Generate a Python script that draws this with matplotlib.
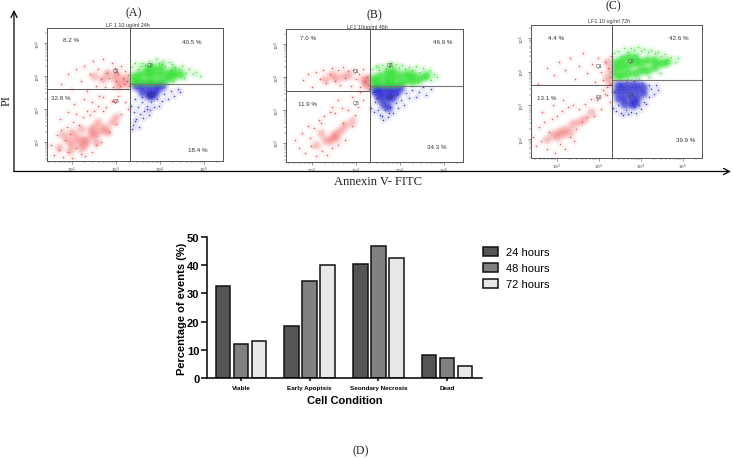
import numpy as np
import matplotlib
matplotlib.use('Agg')
import matplotlib.pyplot as plt
from matplotlib.patches import Patch

W, H = 733, 460

# bar chart values
conditions = ['Viable', 'Early Apoptsis', 'Seondary Necrosis', 'Dead']
hours = ['24 hours', '48 hours', '72 hours']
h24 = [32.8, 18.4, 40.5, 8.2]
h48 = [11.9, 34.3, 46.9, 7.0]
h72 = [13.1, 39.9, 42.6, 4.4]
y_ticks = [0, 10, 20, 30, 40, 50]

panel_titles = ['LF 1 10 ug/ml 24h', 'LF1 10ug/ml 48h', 'LF1 10 ug/ml 72h']
panel_letters = ['(A)', '(B)', '(C)']
decades = [2, 3, 4, 5]

# flow cytometry events, log10 units, read by eye from the clouds
# specks are single events, core points stand for the dense middle of a cloud
a_red_x = [1.52,1.6,1.66,1.7,1.75,1.8,1.83,1.88,1.9,1.95,2.0,2.02,2.08,2.1,2.15,2.2,2.24,2.3,2.35,2.4,2.46,2.5,2.55,2.6,2.66,2.7,2.78,2.85,2.9,3.0,3.05,3.12,3.2,3.28,1.72,1.9,2.05,2.28,2.62,
           1.75,1.9,2.0,2.1,2.2,2.28,2.35,2.4,2.48,2.55,2.6,2.66,2.7,2.75,2.8,2.85,2.9,2.92,2.98,3.0,3.05,3.08,3.12,3.15,3.18,3.2,3.24,3.27,3.3,2.45,2.7,2.95]
a_red_y = [1.9,1.6,2.2,1.75,2.35,1.55,2.05,2.45,1.7,2.25,1.5,2.6,1.8,2.85,2.5,1.62,2.75,1.58,2.95,2.82,1.7,2.95,1.9,3.1,2.0,2.95,3.05,2.3,3.25,2.55,3.4,2.85,3.2,3.0,2.7,2.9,3.15,3.3,3.4,
           3.75,4.05,3.6,4.2,3.85,4.3,3.55,4.05,4.45,3.7,4.2,3.9,4.5,3.65,4.1,3.95,4.4,3.65,4.25,3.85,4.05,3.7,4.3,3.95,3.75,4.15,3.85,4.02,3.68,3.2,3.35,3.25]
a_red_core_x = [2.0,2.15,2.25,2.35,2.45,2.55,2.1,2.4,2.65,1.9,2.75,2.3,1.7,1.8,2.0,2.2,2.5,2.8,2.9,3.0,2.6,2.2,2.55,1.95,3.1,3.2,3.25,2.95,3.05,2.7,2.8,2.5,3.0]
a_red_core_y = [1.95,2.0,2.1,2.05,2.2,2.25,2.15,2.35,2.35,2.05,2.45,1.9,1.85,2.2,2.3,2.4,2.45,2.3,2.6,2.75,2.6,1.8,2.0,1.75,3.85,3.95,3.75,3.95,3.7,3.9,4.1,4.0,4.1]
a_green_x = [3.36,3.42,3.5,3.6,3.66,3.75,3.82,3.9,3.98,4.06,4.12,4.2,4.28,4.34,4.42,4.5,4.58,4.66,4.74,4.82,4.9,3.55,3.8,4.05,4.3,4.55]
a_green_y = [4.28,4.38,4.22,4.4,4.33,4.46,4.36,4.5,4.4,4.45,4.3,4.42,4.36,4.28,4.2,4.3,4.1,4.22,4.05,4.12,4.0,4.3,3.82,4.35,3.85,3.92]
a_green_core_x = [3.4,3.4,3.55,3.55,3.7,3.7,3.7,3.85,3.85,3.85,4.0,4.0,4.0,4.15,4.15,4.3,4.3,4.45]
a_green_core_y = [3.85,4.0,3.85,4.05,3.85,4.05,4.2,3.85,4.05,4.25,3.85,4.05,4.25,3.9,4.1,4.0,4.15,4.05]
a_blue_x = [3.34,3.38,3.42,3.46,3.5,3.55,3.6,3.64,3.7,3.74,3.8,3.86,3.92,3.98,4.04,4.1,4.18,4.25,4.32,4.4,4.46,3.36,3.44,3.52,3.62,3.7,3.4,3.58,3.78]
a_blue_y = [3.1,2.5,3.3,2.7,3.05,2.85,3.2,2.95,3.1,2.8,3.2,3.05,3.3,3.1,3.25,3.45,3.3,3.55,3.4,3.6,3.52,2.4,2.62,2.45,2.72,3.0,2.9,3.35,2.98]
a_blue_core_x = [3.45,3.6,3.75,3.9,4.05,3.6,3.75,3.9,3.75,3.85]
a_blue_core_y = [3.68,3.68,3.68,3.68,3.68,3.52,3.52,3.55,3.38,3.42]

b_red_x = [1.62,1.7,1.78,1.85,1.9,1.98,2.05,2.1,2.16,2.22,2.28,2.34,2.4,2.46,2.52,2.6,2.68,2.75,2.82,2.9,2.98,3.05,3.15,1.95,2.2,2.45,2.7,
           1.8,1.9,2.0,2.1,2.18,2.25,2.32,2.4,2.46,2.52,2.58,2.64,2.7,2.76,2.82,2.88,2.94,3.0,3.06,3.1,3.15,3.2,3.25,3.28,3.3,2.6,2.9,3.1]
b_red_y = [2.1,1.85,2.3,1.7,2.5,1.9,2.45,1.6,2.7,1.75,2.8,1.62,2.95,1.85,2.9,1.95,3.05,2.1,3.0,2.5,2.85,3.1,3.3,2.15,2.6,3.1,2.6,
           3.9,4.08,3.7,4.15,3.95,4.22,3.8,4.1,4.28,3.88,4.2,3.75,4.3,3.98,4.18,3.72,4.22,3.95,4.1,3.7,4.25,3.85,4.0,3.75,3.62,3.3,3.4,3.55]
b_red_core_x = [2.3,2.45,2.55,2.65,2.4,2.75,2.55,2.1,2.9,2.2,2.55,2.7,2.85,3.2,3.25,3.15,3.28,2.3,2.45]
b_red_core_y = [2.1,2.2,2.3,2.4,2.05,2.55,2.15,1.95,2.65,2.3,3.98,4.02,4.05,3.85,3.72,3.95,3.98,3.95,4.05]
b_green_x = [3.36,3.45,3.52,3.6,3.68,3.75,3.82,3.9,3.98,4.05,4.12,4.2,4.28,4.36,4.44,4.52,4.6,4.68,4.76,4.84,3.5,3.8,4.1,4.4,4.7]
b_green_y = [4.25,4.32,4.2,4.36,4.28,4.4,4.32,4.38,4.28,4.35,4.25,4.3,4.22,4.34,4.15,4.28,3.98,4.2,4.08,4.0,4.3,4.42,3.8,3.85,3.9]
b_green_core_x = [3.4,3.4,3.55,3.55,3.7,3.7,3.7,3.85,3.85,3.85,4.0,4.0,4.15,4.15,4.3,4.3,4.45,4.6]
b_green_core_y = [3.82,3.98,3.82,4.02,3.82,3.98,4.15,3.82,4.0,4.18,3.85,4.05,3.9,4.1,3.88,4.05,3.98,4.05]
b_blue_x = [3.35,3.4,3.44,3.5,3.54,3.6,3.66,3.72,3.78,3.84,3.9,3.96,4.02,4.08,4.14,4.2,4.28,4.36,4.44,4.52,4.6,4.7,3.38,3.48,3.62,3.76,3.92]
b_blue_y = [3.05,2.95,3.25,3.0,2.85,2.82,3.0,2.78,3.08,2.9,3.2,3.05,3.3,3.15,3.5,3.35,3.6,3.4,3.55,3.68,3.45,3.62,3.55,3.35,2.7,2.9,3.48]
b_blue_core_x = [3.42,3.55,3.7,3.85,4.0,3.45,3.6,3.75,3.9,3.55,3.7,3.82,3.62,3.72]
b_blue_core_y = [3.65,3.65,3.65,3.65,3.65,3.5,3.5,3.5,3.5,3.35,3.35,3.35,3.18,3.1]

c_red_x = [1.42,1.5,1.56,1.62,1.7,1.75,1.82,1.88,1.95,2.0,2.06,2.12,2.2,2.25,2.32,2.38,2.45,2.52,2.6,2.66,2.72,2.8,2.88,2.95,3.05,3.15,3.25,1.65,1.9,2.15,2.4,
           1.55,1.75,1.92,2.05,2.18,2.3,2.42,2.52,2.62,2.72,2.82,2.9,2.98,3.05,3.1,3.15,3.18,3.22,3.25,3.28,3.3,3.27,3.2,2.95,3.1]
c_red_y = [2.05,1.8,2.35,1.95,2.5,1.7,2.2,2.6,1.6,2.7,1.85,2.85,1.7,2.95,2.05,3.0,2.3,2.9,2.5,3.05,2.65,3.2,2.7,3.25,2.9,3.35,3.1,2.8,3.0,3.15,1.95,
           3.65,4.1,3.9,4.3,4.05,4.42,3.8,4.18,4.55,3.95,4.22,3.7,4.4,4.0,3.75,4.3,3.55,4.12,3.85,4.48,3.95,3.65,3.3,3.15,3.45]
c_red_core_x = [1.9,2.05,2.2,2.35,2.5,2.65,2.0,2.15,1.75,2.3,2.8,3.22,3.27,3.18,3.25]
c_red_core_y = [2.15,2.25,2.3,2.45,2.5,2.6,2.05,2.15,2.0,2.2,2.8,4.3,4.05,3.85,3.68]
c_green_x = [3.36,3.44,3.52,3.6,3.68,3.76,3.84,3.92,4.0,4.08,4.16,4.24,4.32,4.4,4.48,4.56,4.64,4.72,4.8,4.88,3.5,3.7,3.95,4.2,4.45]
c_green_y = [4.55,4.62,4.48,4.7,4.6,4.72,4.66,4.75,4.62,4.68,4.58,4.65,4.55,4.6,4.48,4.52,4.35,4.45,4.3,4.4,3.85,3.8,3.82,3.85,3.95]
c_green_core_x = [3.4,3.4,3.4,3.55,3.55,3.55,3.7,3.7,3.7,3.85,3.85,3.85,4.0,4.0,4.15,4.15,4.3,4.3,4.45,4.6]
c_green_core_y = [3.9,4.1,4.3,3.9,4.15,4.35,3.95,4.2,4.45,3.95,4.25,4.45,4.05,4.3,4.05,4.35,4.15,4.35,4.25,4.3]
c_blue_x = [3.34,3.4,3.46,3.52,3.58,3.64,3.7,3.76,3.82,3.88,3.94,4.0,4.06,4.12,4.18,4.24,4.3,4.36,3.36,3.5,3.66,3.84,4.02,4.2,4.4]
c_blue_y = [2.92,2.85,3.0,2.78,2.72,2.88,2.75,2.82,2.95,2.78,3.0,2.9,3.1,3.05,3.25,3.5,3.35,3.6,3.4,3.65,3.7,3.72,3.68,3.62,3.45]
c_blue_core_x = [3.45,3.6,3.75,3.9,4.05,3.42,3.58,3.72,3.88,4.05,3.45,3.6,3.75,3.9,3.6,3.75,3.85]
c_blue_core_y = [3.62,3.62,3.62,3.6,3.55,3.42,3.42,3.42,3.42,3.38,3.22,3.22,3.25,3.22,3.05,3.05,3.08]


def box(x0, y0, x1, y1):
	# pixel box (y from the top) to figure fractions
	return [x0 / W, 1 - y1 / H, (x1 - x0) / W, (y1 - y0) / H]


def put(x, y, s, **kw):
	fig.text(x / W, 1 - y / H, s, ha='center', va='center', **kw)


def cloud(ax, specks, core, color, haze, halo):
	# a soft tint under the single events, then the dense middle
	ax.scatter(specks[0], specks[1], s=28, color=color, alpha=haze, linewidths=0)
	for size, part in [(90, 0.35), (45, 0.6), (18, 0.9)]:
		ax.scatter(core[0], core[1], s=size, color=color, alpha=halo * part, linewidths=0)
	ax.scatter(specks[0], specks[1], s=1.3, color=color, alpha=0.8, linewidths=0)


def flow_panel(pos, xlim, ylim, gates, red, red_core, green, green_core, blue, blue_core):
	ax = fig.add_axes(box(*pos))
	ax.set_xlim(xlim)
	ax.set_ylim(ylim)

	cloud(ax, red, red_core, '#ee3333', 0.05, 0.17)
	cloud(ax, blue, blue_core, '#1414cc', 0.07, 0.42)
	cloud(ax, green, green_core, '#22e022', 0.1, 0.5)

	gx, gleft, gright = gates
	ax.plot([xlim[0], gx], [gleft, gleft], color='#555555', lw=0.7)
	ax.plot([gx, xlim[1]], [gright, gright], color='#777777', lw=0.8)
	ax.axvline(gx, color='#555555', lw=0.7)

	minor = [d + np.log10(m) for d in [1, 2, 3, 4, 5] for m in range(2, 10)]
	ax.set_xticks([m for m in minor if xlim[0] < m < xlim[1]], minor=True)
	ax.set_yticks([m for m in minor if ylim[0] < m < ylim[1]], minor=True)
	ax.set_xticks(decades)
	ax.set_yticks(decades)
	labels = ['$10^%d$' % d for d in decades]
	ax.set_xticklabels(labels, fontsize=3.2, color='#444444')
	ax.set_yticklabels(labels, fontsize=3.2, color='#444444', rotation=90, va='center')
	ax.tick_params(which='major', length=2.2, width=0.4, pad=0.8, color='#444444')
	ax.tick_params(which='minor', length=1.1, width=0.3, color='#444444')
	for s in ax.spines.values():
		s.set_linewidth(0.7)
		s.set_color('#555555')
	return ax


fig = plt.figure(figsize=(W / 100, H / 100), dpi=100, facecolor='white')
sans = ['Liberation Sans', 'DejaVu Sans']
serif = ['Liberation Serif', 'DejaVu Serif']

# the three dot plots
flow_panel((47, 29, 223, 162), (1.43, 5.43), (1.42, 5.45), (3.32, 3.6, 3.76),
	(a_red_x, a_red_y), (a_red_core_x, a_red_core_y), (a_green_x, a_green_y),
	(a_green_core_x, a_green_core_y), (a_blue_x, a_blue_y), (a_blue_core_x, a_blue_core_y))
flow_panel((286, 30, 463, 163), (1.41, 5.43), (1.42, 5.45), (3.32, 3.58, 3.73),
	(b_red_x, b_red_y), (b_red_core_x, b_red_core_y), (b_green_x, b_green_y),
	(b_green_core_x, b_green_core_y), (b_blue_x, b_blue_y), (b_blue_core_x, b_blue_core_y))
flow_panel((531, 26, 702, 159), (1.38, 5.45), (1.44, 5.39), (3.31, 3.6, 3.75),
	(c_red_x, c_red_y), (c_red_core_x, c_red_core_y), (c_green_x, c_green_y),
	(c_green_core_x, c_green_core_y), (c_blue_x, c_blue_y), (c_blue_core_x, c_blue_core_y))

# quadrant percentages come from the bar values
text_at = [
	[(71, 41), (192, 42), (61, 99), (198, 150)],
	[(308, 39), (443, 42), (307, 104), (437, 148)],
	[(556, 39), (679, 38), (547, 98), (686, 140)],
]
q_at = [
	[(116, 71), (150, 66), (116, 102), (150, 96)],
	[(356, 72), (390, 66), (356, 103), (390, 97)],
	[(599, 67), (631, 62), (599, 98), (631, 95)],
]
title_at = [(128, 26), (367, 27), (609, 22)]
letter_at = [(134, 13), (374, 15), (613, 6)]
for i, series in enumerate([h24, h48, h72]):
	vals = [series[3], series[2], series[0], series[1]]
	for (x, y), v in zip(text_at[i], vals):
		put(x, y, '%.1f %%' % v, fontsize=4.5, color='#333333', family=sans)
	for (x, y), q in zip(q_at[i], ['Q1', 'Q2', 'Q3', 'Q4']):
		put(x, y, q, fontsize=3.6, color='#444444', family=sans)
	put(title_at[i][0], title_at[i][1], panel_titles[i], fontsize=3.9, color='#333333', family=sans)
	put(letter_at[i][0], letter_at[i][1], panel_letters[i], fontsize=8.6, color='#222222', family=serif)

# big arrows under the dot plots
overlay = fig.add_axes([0, 0, 1, 1], facecolor='none')
overlay.set_xlim(0, W)
overlay.set_ylim(H, 0)
overlay.axis('off')
arrow = dict(arrowstyle='->', lw=0.9, color='black', mutation_scale=11, shrinkA=0, shrinkB=0)
overlay.annotate('', xy=(14, 11), xytext=(14, 172.5), arrowprops=arrow)
overlay.annotate('', xy=(731, 172.5), xytext=(14, 172.5), arrowprops=arrow)

put(7, 100, 'PI', fontsize=9, rotation=90, color='#222222', family=serif)
put(378, 182, 'Annexin V- FITC', fontsize=9, color='#222222', family=serif)
put(361, 451, '(D)', fontsize=8.6, color='#222222', family=serif)

# bar chart
ax = fig.add_axes(box(207, 238, 482, 379))
x = np.arange(len(conditions))
step = 0.262
colors = ['#555555', '#808080', '#e8e8e8']
for k, series in enumerate([h24, h48, h72]):
	ax.bar(x + (k - 1) * step, series, width=0.214, color=colors[k], edgecolor='#111111', linewidth=1.1)

ax.set_xlim(-0.495, 3.51)
ax.set_ylim(0, 50)
ax.set_xticks(x)
ax.set_xticklabels(conditions, fontsize=4.6, fontweight='bold', family=sans)
ax.set_yticks(y_ticks)
ax.set_yticklabels(y_ticks, fontsize=8, fontweight='bold', family=sans)
ax.tick_params(axis='y', length=4, width=1.1, pad=1.5)
ax.tick_params(axis='x', length=2.5, width=1.1, pad=2.5)
ax.set_xlabel('Cell Condition', fontsize=8, fontweight='bold', family=sans, labelpad=4)
ax.set_ylabel('Percentage of events (%)', fontsize=8, fontweight='bold', family=sans, labelpad=0)
ax.spines['top'].set_visible(False)
ax.spines['right'].set_visible(False)
ax.spines['left'].set_linewidth(1.1)
ax.spines['bottom'].set_linewidth(1.1)

handles = [Patch(facecolor=colors[k], edgecolor='#111111', linewidth=1.1, label=hours[k]) for k in range(3)]
fig.legend(handles=handles, loc='upper left', bbox_to_anchor=(483 / W, 1 - 248 / H), frameon=False,
	prop={'family': sans, 'size': 8}, handlelength=1.35, handleheight=0.85,
	labelspacing=0.5, handletextpad=0.7, borderpad=0, borderaxespad=0)

fig.savefig('out.png', dpi=100)
